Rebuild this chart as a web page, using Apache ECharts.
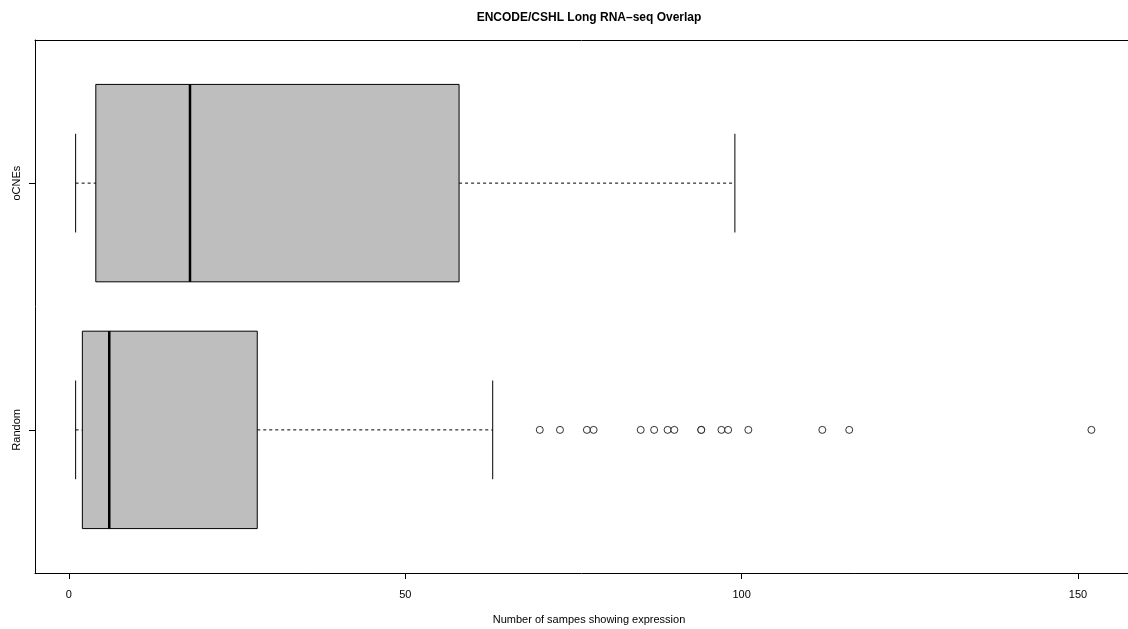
<!DOCTYPE html>
<html>
<head>
<meta charset="utf-8">
<script src="https://cdn.jsdelivr.net/npm/echarts@6/dist/echarts.min.js"></script>
<style>html,body{margin:0;padding:0;background:#fff;}#chart{width:1128px;height:629px;}</style>
</head>
<body>
<div id="chart"></div>
<script>
const categories = ['Random', 'oCNEs'];
const whiskerLow = [1, 1];
const q1 = [2, 4];
const median = [6, 18];
const q3 = [28, 58];
const whiskerHigh = [63, 99];
const randomOutliers = [70, 73, 77, 78, 85, 87, 89, 90, 94, 94, 97, 98, 101, 112, 116, 152];
const xTicks = [0, 50, 100, 150];
const yTicks = [1, 2];
const titleText = 'ENCODE/CSHL Long RNA\u2013seq Overlap';
const xLabel = 'Number of sampes showing expression';

const FONT = '"Liberation Sans", Arial, Helvetica, sans-serif';
const chart = echarts.init(document.getElementById('chart'), null, {renderer: 'canvas'});

const boxData = categories.map((c, i) => [i + 1, whiskerLow[i], q1[i], median[i], q3[i], whiskerHigh[i]]);
const outlierData = randomOutliers.map(v => [v, 1]);

function renderBox(params, api) {
  const y = api.value(0);
  const lo = api.value(1), a = api.value(2), m = api.value(3), b = api.value(4), hi = api.value(5);
  const halfBox = 0.4, halfStaple = 0.2;
  const pLo = api.coord([lo, y]);
  const pA = api.coord([a, y]);
  const pM = api.coord([m, y]);
  const pB = api.coord([b, y]);
  const pHi = api.coord([hi, y]);
  const top = api.coord([a, y + halfBox])[1];
  const bot = api.coord([a, y - halfBox])[1];
  const sTop = api.coord([a, y + halfStaple])[1];
  const sBot = api.coord([a, y - halfStaple])[1];
  const cy = pA[1];
  return {
    type: 'group',
    children: [
      {type: 'line', shape: {x1: pLo[0], y1: cy, x2: pA[0], y2: cy}, style: {stroke: '#000', lineWidth: 1, lineDash: [3, 3]}},
      {type: 'line', shape: {x1: pB[0], y1: cy, x2: pHi[0], y2: cy}, style: {stroke: '#000', lineWidth: 1, lineDash: [3, 3]}},
      {type: 'line', shape: {x1: pLo[0], y1: sTop, x2: pLo[0], y2: sBot}, style: {stroke: '#000', lineWidth: 1}},
      {type: 'line', shape: {x1: pHi[0], y1: sTop, x2: pHi[0], y2: sBot}, style: {stroke: '#000', lineWidth: 1}},
      {type: 'rect', shape: {x: pA[0], y: top, width: pB[0] - pA[0], height: bot - top}, style: {fill: '#bebebe', stroke: '#000', lineWidth: 1}},
      {type: 'line', shape: {x1: pM[0], y1: top, x2: pM[0], y2: bot}, style: {stroke: '#000', lineWidth: 2.5}}
    ]
  };
}

const option = {
  animation: false,
  backgroundColor: '#ffffff',
  title: [
    {text: titleText, left: 584, top: 7, textAlign: 'center',
     textStyle: {fontFamily: FONT, fontSize: 12, fontWeight: 'bold', color: '#000'}},
    {text: xLabel, left: 584, top: 609, textAlign: 'center',
     textStyle: {fontFamily: FONT, fontSize: 11, fontWeight: 'normal', color: '#000'}}
  ],
  grid: {left: 35, top: 40, width: 1093, height: 533, show: false, containLabel: false},
  xAxis: [{
    type: 'value', min: -5.04, max: 157.44, position: 'bottom',
    axisLine: {show: true, onZero: false, lineStyle: {color: '#000', width: 1}},
    axisTick: {show: true, customValues: xTicks, length: 6, lineStyle: {color: '#000'}},
    axisLabel: {show: true, customValues: xTicks, margin: 16, fontFamily: FONT, fontSize: 11, color: '#000'},
    splitLine: {show: false}
  }, {
    type: 'value', min: -5.04, max: 157.44, position: 'top',
    axisLine: {show: true, onZero: false, lineStyle: {color: '#000', width: 1}},
    axisTick: {show: false}, axisLabel: {show: false}, splitLine: {show: false}
  }],
  yAxis: {
    type: 'value', min: 0.42, max: 2.58,
    axisLine: {show: true, onZero: false, lineStyle: {color: '#000', width: 1}},
    axisTick: {show: true, customValues: yTicks, length: 6, lineStyle: {color: '#000'}},
    axisLabel: {show: true, customValues: yTicks, rotate: 90, margin: 13, fontFamily: FONT, fontSize: 11, color: '#000',
      formatter: v => categories[Math.round(v) - 1] || ''},
    splitLine: {show: false}
  },
  series: [
    {type: 'custom', renderItem: renderBox, data: boxData, encode: {x: [1, 2, 3, 4, 5], y: 0}, z: 2},
    {type: 'scatter', data: outlierData, symbol: 'circle', symbolSize: 7,
     itemStyle: {color: '#fff', borderColor: '#000', borderWidth: 1}, z: 3}
  ]
};
chart.setOption(option);
</script>
</body>
</html>
